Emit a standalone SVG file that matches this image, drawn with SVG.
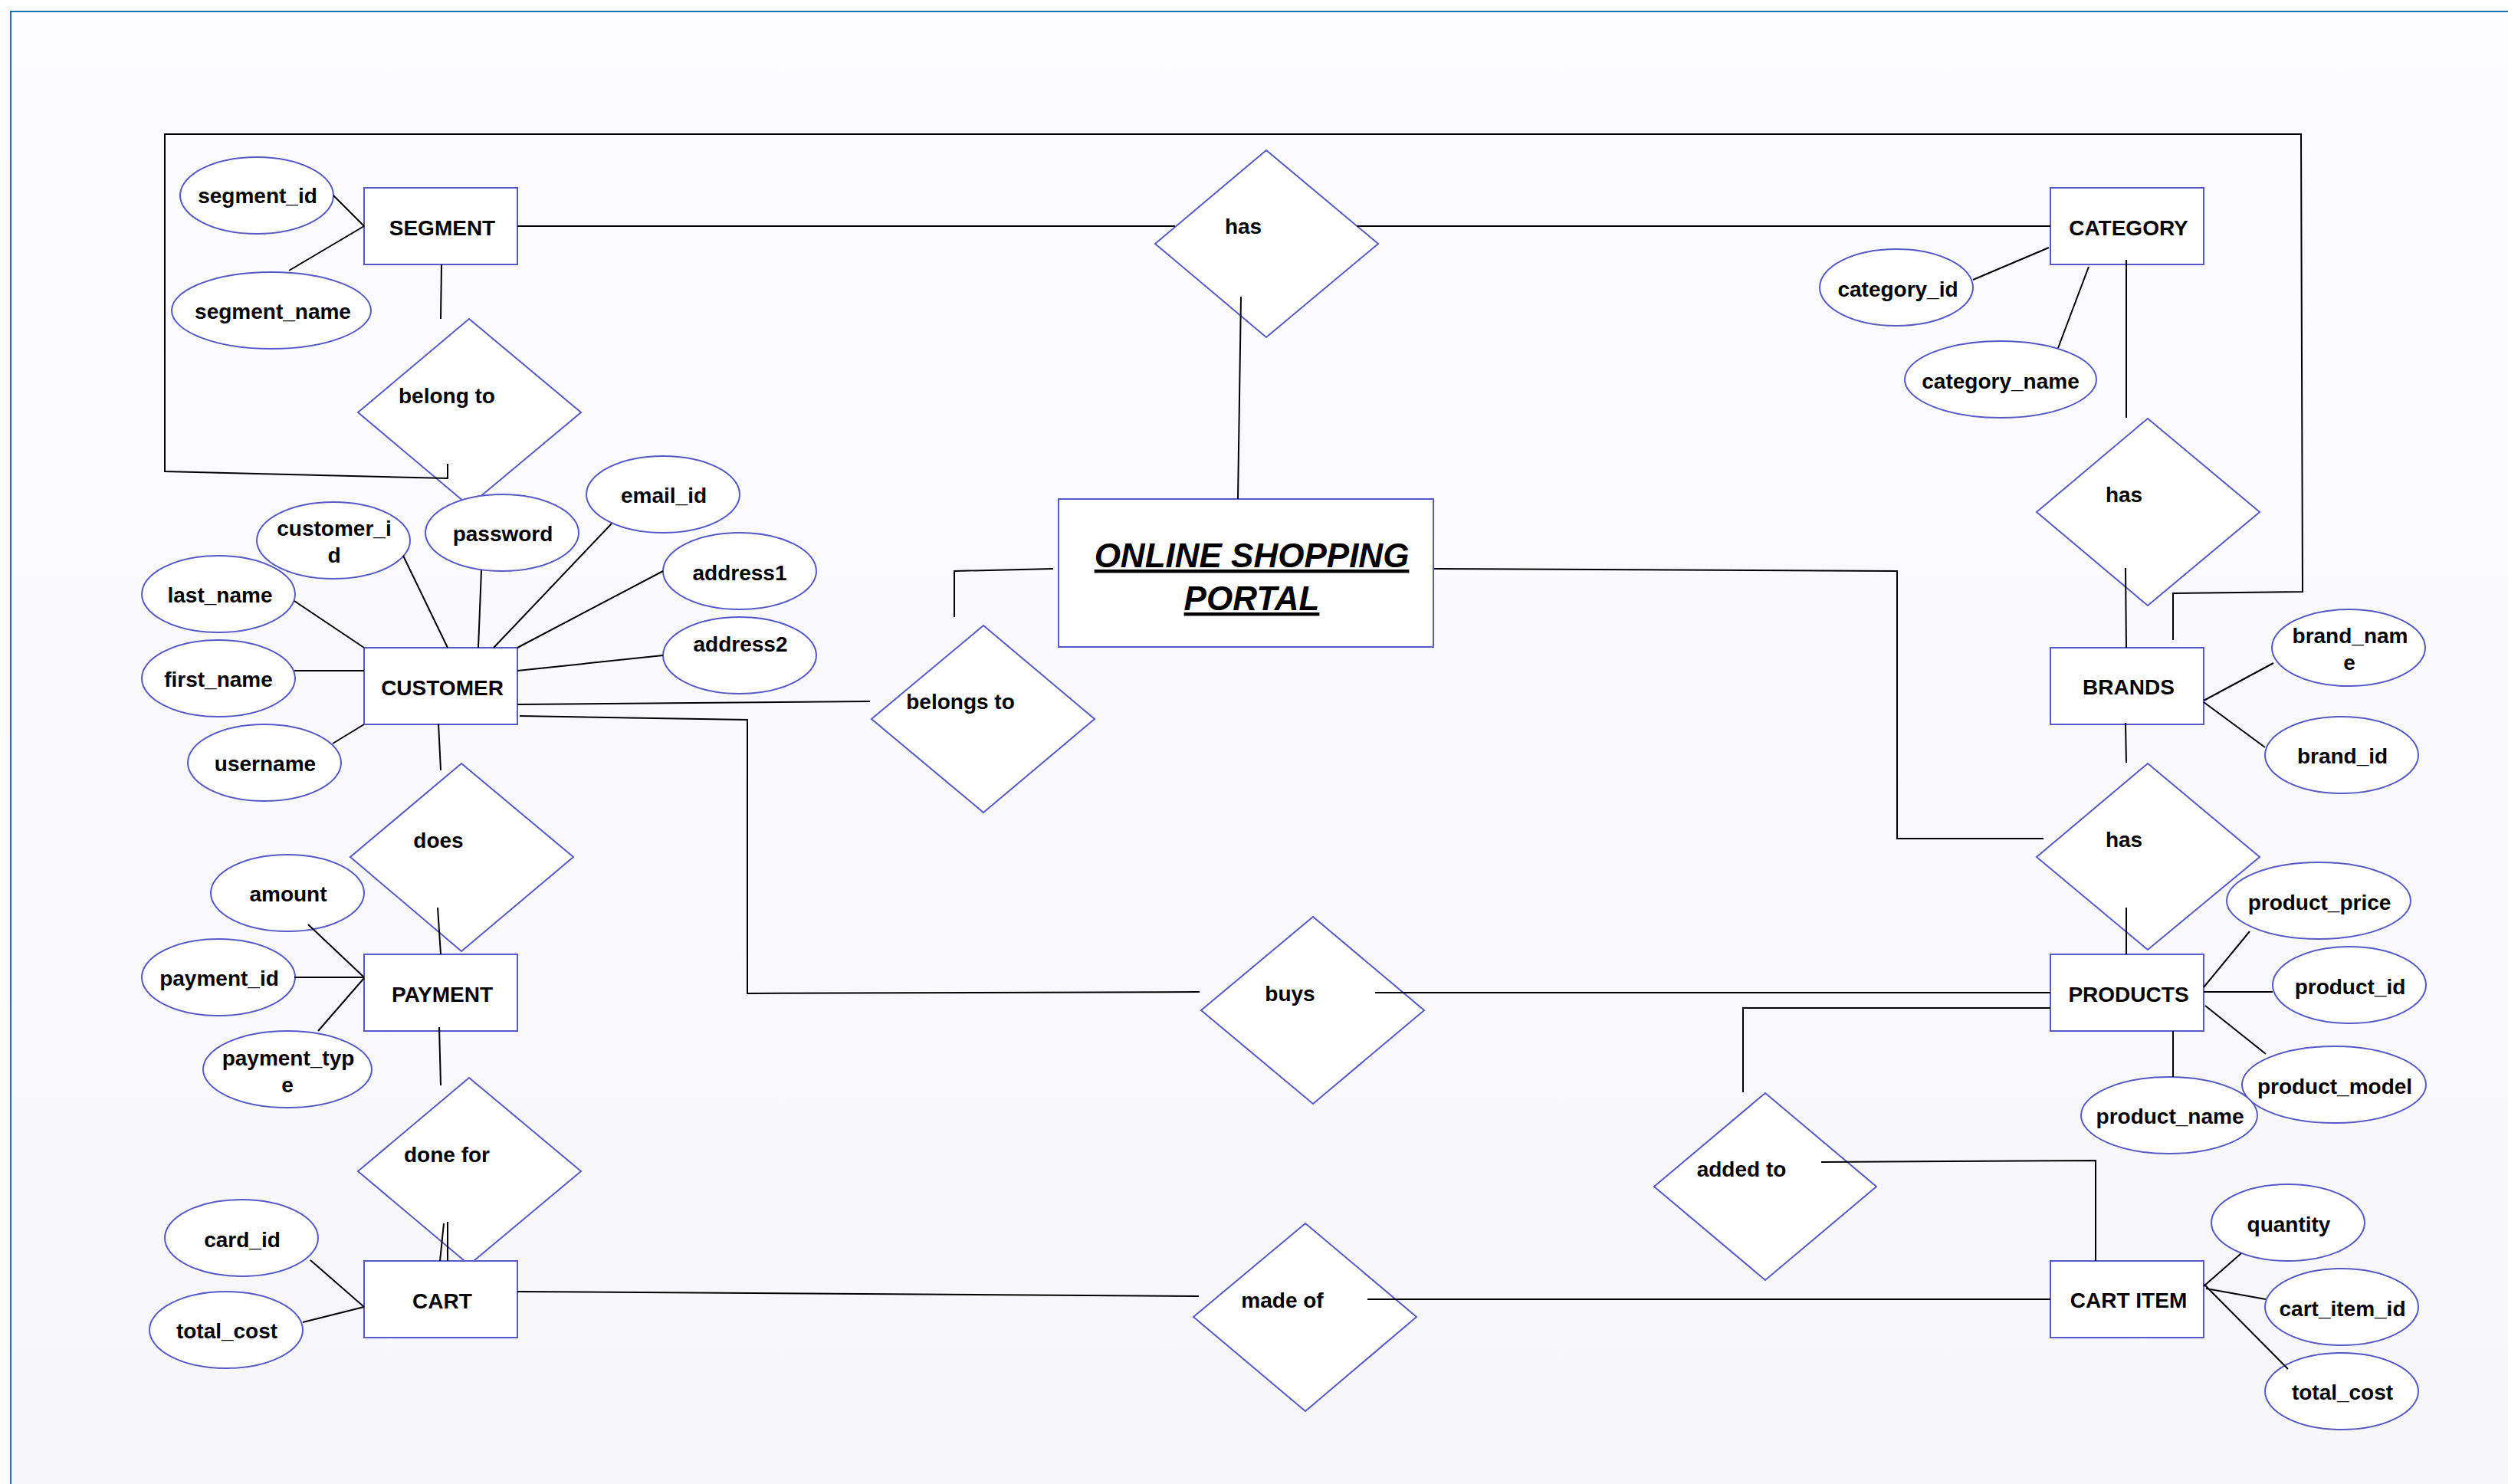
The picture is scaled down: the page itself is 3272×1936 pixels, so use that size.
<svg xmlns="http://www.w3.org/2000/svg" width="3272" height="1936" viewBox="0 0 3272 1936">
<defs>
<linearGradient id="bg" x1="0" y1="0" x2="0" y2="1">
<stop offset="0" stop-color="#fcfcff"/>
<stop offset="1" stop-color="#f7f6fa"/>
</linearGradient>
<style>
.sh{fill:#ffffff;stroke:#5659c6;stroke-width:2}
.ln{fill:none;stroke:#000000;stroke-width:2}
text{font-family:"Liberation Sans",Arial,sans-serif;font-weight:bold;font-size:28px;fill:#000;text-anchor:middle;dominant-baseline:central}
.title{font-size:44px;font-style:italic;text-decoration:underline;dominant-baseline:alphabetic}
</style>
</defs>
<rect x="0" y="0" width="3272" height="1936" fill="#ffffff"/>
<rect x="14" y="15" width="3258" height="1921" fill="url(#bg)"/>
<path d="M14,1936 V15 H3272" fill="none" stroke="#1677b7" stroke-width="2"/>

<g id="relationships">
<g id="rel-has-top"><polygon class="sh" points="1652,196 1798,318 1652,440 1507,318"/><text x="1622" y="295">has</text></g>
<g id="rel-belong-to"><polygon class="sh" points="612,416 758,538 612,660 467,538"/><text x="583" y="516">belong to</text></g>
<g id="rel-does"><polygon class="sh" points="602,996 748,1118 602,1241 457,1118"/><text x="572" y="1096">does</text></g>
<g id="rel-done-for"><polygon class="sh" points="612,1406 758,1528 612,1650 467,1528"/><text x="583" y="1506">done for</text></g>
<g id="rel-belongs-to"><polygon class="sh" points="1283,816 1428,938 1283,1060 1137,938"/><text x="1253" y="915">belongs to</text></g>
<g id="rel-buys"><polygon class="sh" points="1713,1196 1858,1318 1713,1440 1567,1318"/><text x="1683" y="1296">buys</text></g>
<g id="rel-made-of"><polygon class="sh" points="1703,1596 1848,1718 1703,1841 1557,1718"/><text x="1673" y="1696">made of</text></g>
<g id="rel-has-brands"><polygon class="sh" points="2802,546 2948,668 2802,790 2657,668"/><text x="2771" y="645">has</text></g>
<g id="rel-has-products"><polygon class="sh" points="2802,996 2948,1118 2802,1239 2657,1118"/><text x="2771" y="1095">has</text></g>
<g id="rel-added-to"><polygon class="sh" points="2303,1426 2448,1548 2303,1670 2158,1548"/><text x="2272" y="1525">added to</text></g>
</g>

<g id="entities">
<g id="ent-segment"><rect class="sh" x="475" y="245" width="200" height="100"/><text x="577" y="297">SEGMENT</text></g>
<g id="ent-customer"><rect class="sh" x="475" y="845" width="200" height="100"/><text x="577" y="897">CUSTOMER</text></g>
<g id="ent-payment"><rect class="sh" x="475" y="1245" width="200" height="100"/><text x="577" y="1297">PAYMENT</text></g>
<g id="ent-cart"><rect class="sh" x="475" y="1645" width="200" height="100"/><text x="577" y="1697">CART</text></g>
<g id="ent-category"><rect class="sh" x="2675" y="245" width="200" height="100"/><text x="2777" y="297">CATEGORY</text></g>
<g id="ent-brands"><rect class="sh" x="2675" y="845" width="200" height="100"/><text x="2777" y="896">BRANDS</text></g>
<g id="ent-products"><rect class="sh" x="2675" y="1245" width="200" height="100"/><text x="2777" y="1297">PRODUCTS</text></g>
<g id="ent-cart-item"><rect class="sh" x="2675" y="1645" width="200" height="100"/><text x="2777" y="1696">CART ITEM</text></g>
<g id="portal"><rect class="sh" x="1381" y="651" width="489" height="193"/><text class="title" x="1633" y="740">ONLINE SHOPPING</text><text class="title" x="1633" y="796">PORTAL</text></g>
</g>

<g id="attributes">
<g id="att-segment-id"><ellipse class="sh" cx="335" cy="255" rx="100" ry="50"/><text x="336" y="255">segment_id</text></g>
<g id="att-segment-name"><ellipse class="sh" cx="354" cy="405" rx="130" ry="50"/><text x="356" y="406">segment_name</text></g>
<g id="att-customer-id"><ellipse class="sh" cx="435" cy="705" rx="100" ry="50"/><text x="436" y="689">customer_i</text><text x="436" y="724">d</text></g>
<g id="att-password"><ellipse class="sh" cx="655" cy="695" rx="100" ry="50"/><text x="656" y="696">password</text></g>
<g id="att-email-id"><ellipse class="sh" cx="865" cy="645" rx="100" ry="50"/><text x="866" y="646">email_id</text></g>
<g id="att-address1"><ellipse class="sh" cx="965" cy="745" rx="100" ry="50"/><text x="965" y="747">address1</text></g>
<g id="att-address2"><ellipse class="sh" cx="965" cy="855" rx="100" ry="50"/><text x="966" y="840">address2</text></g>
<g id="att-last-name"><ellipse class="sh" cx="285" cy="775" rx="100" ry="50"/><text x="287" y="776">last_name</text></g>
<g id="att-first-name"><ellipse class="sh" cx="285" cy="885" rx="100" ry="50"/><text x="285" y="886">first_name</text></g>
<g id="att-username"><ellipse class="sh" cx="345" cy="995" rx="100" ry="50"/><text x="346" y="996">username</text></g>
<g id="att-amount"><ellipse class="sh" cx="375" cy="1165" rx="100" ry="50"/><text x="376" y="1166">amount</text></g>
<g id="att-payment-id"><ellipse class="sh" cx="285" cy="1275" rx="100" ry="50"/><text x="286" y="1276">payment_id</text></g>
<g id="att-payment-type"><ellipse class="sh" cx="375" cy="1395" rx="110" ry="50"/><text x="376" y="1380">payment_typ</text><text x="375" y="1415">e</text></g>
<g id="att-card-id"><ellipse class="sh" cx="315" cy="1615" rx="100" ry="50"/><text x="316" y="1617">card_id</text></g>
<g id="att-cart-total-cost"><ellipse class="sh" cx="295" cy="1735" rx="100" ry="50"/><text x="296" y="1736">total_cost</text></g>
<g id="att-category-id"><ellipse class="sh" cx="2474" cy="375" rx="100" ry="50"/><text x="2476" y="377">category_id</text></g>
<g id="att-category-name"><ellipse class="sh" cx="2610" cy="495" rx="125" ry="50"/><text x="2610" y="497">category_name</text></g>
<g id="att-brand-name"><ellipse class="sh" cx="3064" cy="845" rx="100" ry="50"/><text x="3066" y="829">brand_nam</text><text x="3065" y="864">e</text></g>
<g id="att-brand-id"><ellipse class="sh" cx="3055" cy="985" rx="100" ry="50"/><text x="3056" y="986">brand_id</text></g>
<g id="att-product-model"><ellipse class="sh" cx="3045" cy="1415" rx="120" ry="50"/><text x="3046" y="1417">product_model</text></g>
<g id="att-product-name"><ellipse class="sh" cx="2830" cy="1455" rx="115" ry="50"/><text x="2831" y="1456">product_name</text></g>
<g id="att-product-price"><ellipse class="sh" cx="3025" cy="1175" rx="120" ry="50"/><text x="3026" y="1177">product_price</text></g>
<g id="att-product-id"><ellipse class="sh" cx="3065" cy="1285" rx="100" ry="50"/><text x="3066" y="1287">product_id</text></g>
<g id="att-quantity"><ellipse class="sh" cx="2985" cy="1595" rx="100" ry="50"/><text x="2986" y="1597">quantity</text></g>
<g id="att-cart-item-id"><ellipse class="sh" cx="3055" cy="1705" rx="100" ry="50"/><text x="3056" y="1707">cart_item_id</text></g>
<g id="att-item-total-cost"><ellipse class="sh" cx="3055" cy="1815" rx="100" ry="50"/><text x="3056" y="1816">total_cost</text></g>
</g>

<g id="connectors">
<polyline class="ln" points="584,605 584,624 215,615 215,175 3002,175 3004,772 2835,774 2835,835"/>
<line class="ln" x1="675" y1="295" x2="1533" y2="295"/>
<line class="ln" x1="1770" y1="295" x2="2675" y2="295"/>
<line class="ln" x1="1619" y1="387" x2="1615" y2="651"/>
<line class="ln" x1="435" y1="255" x2="475" y2="295"/>
<line class="ln" x1="377" y1="353" x2="475" y2="295"/>
<line class="ln" x1="576" y1="345" x2="575" y2="416"/>
<line class="ln" x1="384" y1="784" x2="475" y2="845"/>
<line class="ln" x1="384" y1="875" x2="475" y2="875"/>
<line class="ln" x1="434" y1="970" x2="475" y2="945"/>
<line class="ln" x1="526" y1="725" x2="584" y2="845"/>
<line class="ln" x1="628" y1="744" x2="624" y2="845"/>
<line class="ln" x1="798" y1="683" x2="644" y2="845"/>
<line class="ln" x1="865" y1="745" x2="675" y2="845"/>
<line class="ln" x1="865" y1="855" x2="675" y2="875"/>
<line class="ln" x1="572" y1="944" x2="575" y2="1005"/>
<line class="ln" x1="571" y1="1184" x2="575" y2="1245"/>
<line class="ln" x1="402" y1="1206" x2="475" y2="1275"/>
<line class="ln" x1="384" y1="1275" x2="475" y2="1275"/>
<line class="ln" x1="415" y1="1345" x2="475" y2="1276"/>
<line class="ln" x1="573" y1="1340" x2="575" y2="1416"/>
<line class="ln" x1="579" y1="1596" x2="574" y2="1645"/>
<line class="ln" x1="584" y1="1594" x2="584" y2="1645"/>
<line class="ln" x1="405" y1="1644" x2="475" y2="1705"/>
<line class="ln" x1="395" y1="1725" x2="475" y2="1705"/>
<line class="ln" x1="675" y1="1685" x2="1564" y2="1691"/>
<line class="ln" x1="1784" y1="1695" x2="2675" y2="1695"/>
<line class="ln" x1="675" y1="919" x2="1135" y2="915"/>
<polyline class="ln" points="1245,805 1245,745 1374,742"/>
<polyline class="ln" points="678,934 975,939 975,1296 1565,1294"/>
<line class="ln" x1="1794" y1="1295" x2="2675" y2="1295"/>
<polyline class="ln" points="1871,742 2475,745 2475,1094 2666,1094"/>
<line class="ln" x1="2574" y1="365" x2="2673" y2="323"/>
<line class="ln" x1="2685" y1="454" x2="2725" y2="348"/>
<line class="ln" x1="2774" y1="339" x2="2774" y2="545"/>
<line class="ln" x1="2773" y1="741" x2="2774" y2="845"/>
<line class="ln" x1="2875" y1="914" x2="2966" y2="865"/>
<line class="ln" x1="2875" y1="916" x2="2955" y2="975"/>
<line class="ln" x1="2773" y1="943" x2="2774" y2="995"/>
<line class="ln" x1="2774" y1="1184" x2="2774" y2="1245"/>
<line class="ln" x1="2935" y1="1215" x2="2875" y2="1288"/>
<line class="ln" x1="2875" y1="1294" x2="2965" y2="1294"/>
<line class="ln" x1="2877" y1="1312" x2="2956" y2="1375"/>
<line class="ln" x1="2835" y1="1345" x2="2835" y2="1405"/>
<polyline class="ln" points="2675,1315 2274,1315 2274,1425"/>
<polyline class="ln" points="2376,1516 2734,1514 2734,1645"/>
<line class="ln" x1="2924" y1="1635" x2="2875" y2="1678"/>
<line class="ln" x1="2878" y1="1681" x2="2956" y2="1695"/>
<line class="ln" x1="2876" y1="1676" x2="2985" y2="1786"/>
</g>
</svg>
